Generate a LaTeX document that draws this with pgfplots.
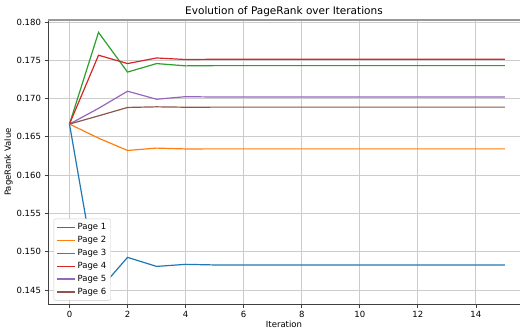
\documentclass[border=0pt]{standalone}
\usepackage{pgfplots}
\pgfplotsset{compat=1.18}
\usepackage{fontspec}
\setmainfont{DejaVu Sans}
\definecolor{c0}{HTML}{1F77B4}
\definecolor{c1}{HTML}{FF7F0E}
\definecolor{c2}{HTML}{2CA02C}
\definecolor{c3}{HTML}{D62728}
\definecolor{c4}{HTML}{9467BD}
\definecolor{c5}{HTML}{8C564B}
\begin{document}
\begin{tikzpicture}
\begin{axis}[
  name=ax,
  scale only axis,
  width=472pt, height=284pt,
  xmin=-0.74, xmax=15.52,
  ymin=0.14317, ymax=0.18026,
  axis x line*=bottom, axis y line*=left,
  axis line style={draw=black!75, line width=0.9pt},
  x axis line style={-}, y axis line style={-},
  xtick={0,2,...,14},
  ytick={0.145,0.150,...,0.181},
  yticklabel style={/pgf/number format/.cd, fixed, fixed zerofill, precision=3},
  scaled y ticks=false,
  tick align=outside,
  major tick length=3.5pt,
  tick style={black!75, line width=0.7pt},
  grid=major,
  major grid style={gray!40, line width=0.8pt},
  ticklabel style={font=\fontsize{8.5}{10}\selectfont},
  /pgf/number format/assume math mode=true,
  title={Evolution of PageRank over Iterations},
  title style={font=\fontsize{10.5}{12}\selectfont, yshift=-6pt},
  xlabel={Iteration}, ylabel={PageRank Value},
  label style={font=\fontsize{8.5}{10}\selectfont},
  xlabel style={yshift=3pt},
  ylabel style={yshift=-3pt},
  legend cell align=left,
  legend style={at={(0.012,0.012)}, anchor=south west, font=\fontsize{8.5}{10}\selectfont,
    draw=gray!40, rounded corners=2pt, fill=white,
    row sep=1.2pt, inner sep=2.5pt},
  legend image code/.code={\draw[#1, line width=1.2pt] (0pt,0pt) -- (18pt,0pt);},
  every axis plot/.append style={line width=1.2pt},
  extra description/.code={\draw[gray!80, line width=1.5pt] (rel axis cs:0,1) -- (rel axis cs:1,1);},
]
\addplot[draw=c0] coordinates {(0,0.16667)(1,0.1449)(2,0.14926)(3,0.14808)(4,0.14835)(5,0.14827)(6,0.14827)(7,0.14827)(8,0.14827)(9,0.14827)(10,0.14827)(11,0.14827)(12,0.14827)(13,0.14827)(14,0.14827)(15,0.14827)};
\addlegendentry{Page 1}
\addplot[draw=c1] coordinates {(0,0.16667)(1,0.16483)(2,0.16322)(3,0.16353)(4,0.16342)(5,0.16343)(6,0.16343)(7,0.16343)(8,0.16343)(9,0.16343)(10,0.16343)(11,0.16343)(12,0.16343)(13,0.16343)(14,0.16343)(15,0.16343)};
\addlegendentry{Page 2}
\addplot[draw=c2] coordinates {(0,0.16667)(1,0.17864)(2,0.17346)(3,0.17457)(4,0.17427)(5,0.1743)(6,0.1743)(7,0.1743)(8,0.1743)(9,0.1743)(10,0.1743)(11,0.1743)(12,0.1743)(13,0.1743)(14,0.1743)(15,0.1743)};
\addlegendentry{Page 3}
\addplot[draw=c3] coordinates {(0,0.16667)(1,0.17566)(2,0.17457)(3,0.1753)(4,0.1751)(5,0.17513)(6,0.17513)(7,0.17513)(8,0.17513)(9,0.17513)(10,0.17513)(11,0.17513)(12,0.17513)(13,0.17513)(14,0.17513)(15,0.17513)};
\addlegendentry{Page 4}
\addplot[draw=c4] coordinates {(0,0.16667)(1,0.16872)(2,0.17096)(3,0.16991)(4,0.17025)(5,0.1702)(6,0.1702)(7,0.1702)(8,0.1702)(9,0.1702)(10,0.1702)(11,0.1702)(12,0.1702)(13,0.1702)(14,0.1702)(15,0.1702)};
\addlegendentry{Page 5}
\addplot[draw=c5] coordinates {(0,0.16667)(1,0.16774)(2,0.16884)(3,0.16892)(4,0.16887)(5,0.16888)(6,0.16888)(7,0.16888)(8,0.16888)(9,0.16888)(10,0.16888)(11,0.16888)(12,0.16888)(13,0.16888)(14,0.16888)(15,0.16888)};
\addlegendentry{Page 6}
\end{axis}
\pgfresetboundingbox
\path ([shift={(-48pt,-26pt)}]ax.south west) rectangle ([shift={(0pt,20pt)}]ax.north east);
\end{tikzpicture}
\end{document}
